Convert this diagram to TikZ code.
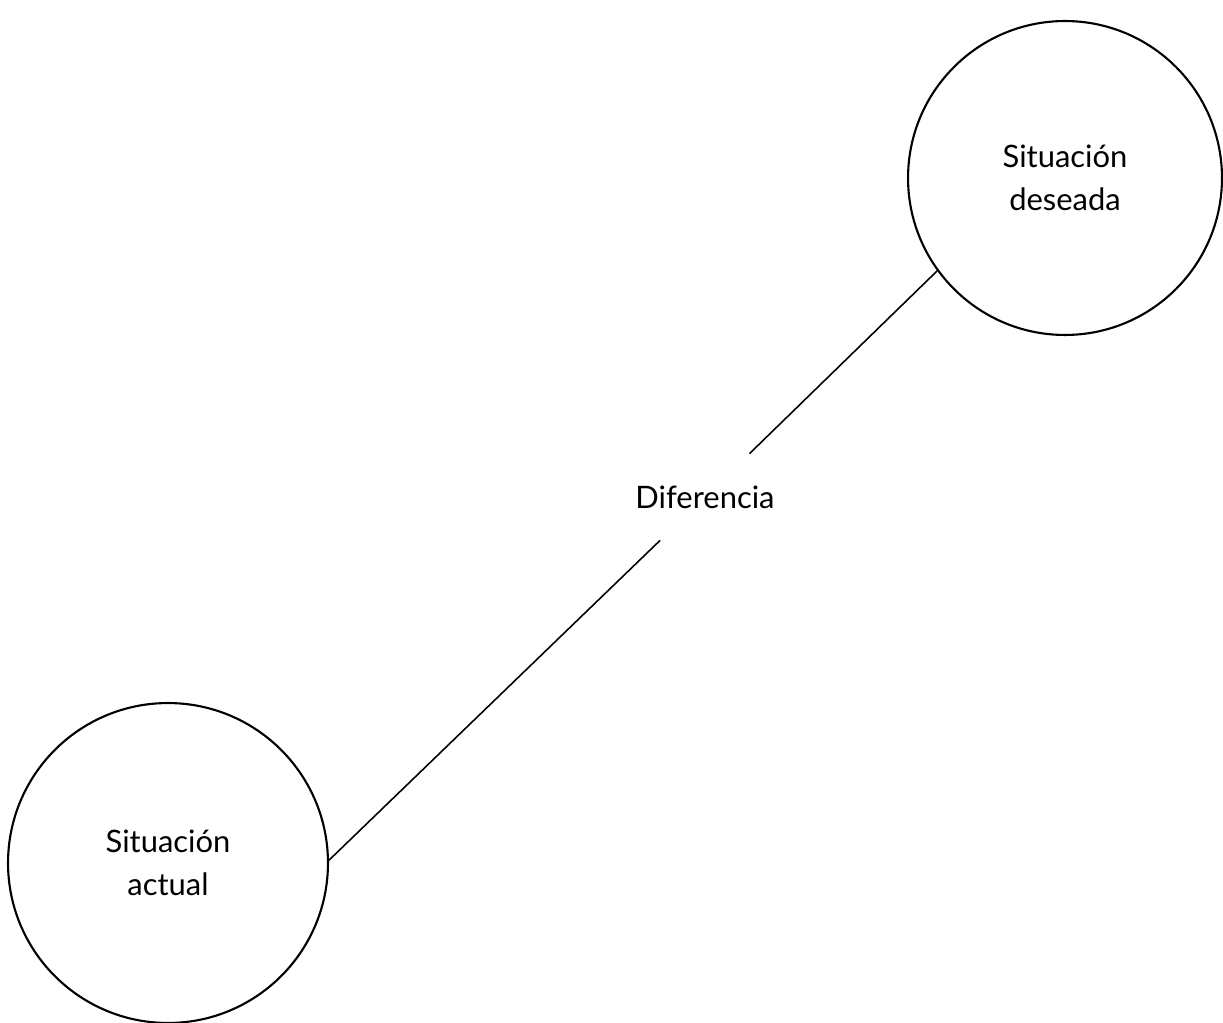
\documentclass[tikz,border=0pt]{standalone}
\usepackage{fontspec}
\setmainfont{Lato}
\begin{document}
\begin{tikzpicture}[x=0.02cm,y=-0.02cm,
  state/.style={circle,draw,line width=1.2pt,align=center,
    font=\fontsize{17.6}{24.5}\selectfont},
  gaplabel/.style={rectangle,inner xsep=1pt,minimum height=1.72cm,
    font=\fontsize{17.6}{20}\selectfont},
  link/.style={line width=0.9pt}]
  \useasboundingbox (0,0) rectangle (1223,1023);
  % the two situations
  \node[state,minimum size=6.4cm] (actual) at (168,863) {Situación\\actual};
  \node[state,minimum size=6.28cm] (deseada) at (1065,178) {Situación\\deseada};
  % the gap between them
  \node[gaplabel] (dif) at (705,497) {Diferencia};
  \draw[link] (actual.1) -- (dif);
  \draw[link] (dif) -- (deseada.216.6);
\end{tikzpicture}
\end{document}
